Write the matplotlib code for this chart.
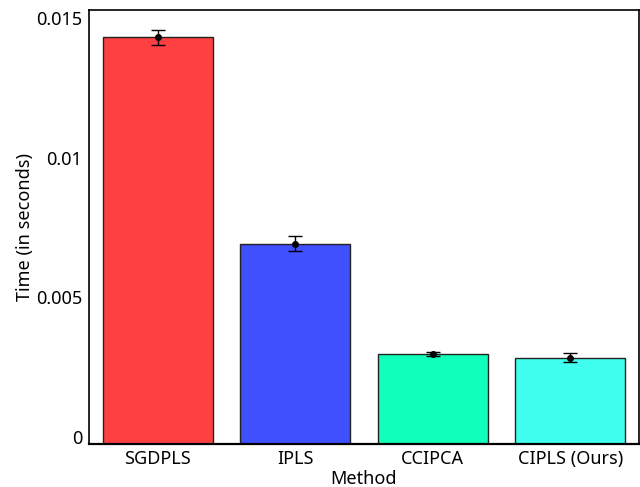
import matplotlib
matplotlib.use("Agg")
import matplotlib.pyplot as plt
import numpy as np

methods = ["SGDPLS", "IPLS", "CCIPCA", "CIPLS (Ours)"]
times = [0.01432, 0.00692, 0.00297, 0.00284]
errors = [0.00027, 0.00027, 0.00008, 0.00017]
colors = ["#FF4043", "#4050FF", "#10FFBA", "#40FFEE"]
yticks = [0, 0.005, 0.01, 0.015]
yticklabels = ["0", "0.005", "0.01", "0.015"]

plt.rcParams['font.family'] = ['Noto Sans', 'DejaVu Sans']

fig = plt.figure(figsize=(6.4, 4.87), dpi=100)
ax = fig.add_axes([89/640, 1 - 444/487, 550/640, 434/487])

ybottom = -0.00025
x = np.arange(1, len(methods) + 1)
heights = [t - ybottom for t in times]
ax.bar(x, heights, bottom=ybottom, width=0.8, color=colors,
       edgecolor="#222222", linewidth=1.0, zorder=2)
ax.errorbar(x, times, yerr=errors, fmt='o', color='black', ms=4,
            capsize=5, elinewidth=1.0, capthick=1.0, zorder=3)

ax.set_xlim(0.5, 4.5)
ax.set_ylim(ybottom, 0.01529)
ax.set_xticks(x)
ax.set_xticklabels(methods, fontsize=13)
ax.set_yticks(yticks)
ax.set_yticklabels(yticklabels, fontsize=13)
ax.tick_params(axis='both', length=0, pad=5)
ax.tick_params(axis='x', pad=4)
for s in ax.spines.values():
    s.set_color('black')
    s.set_linewidth(1.2)
ax.spines['bottom'].set_linewidth(1.6)

ax.set_xlabel("Method", fontsize=13, labelpad=1.5)
ax.set_ylabel("Time (in seconds)", fontsize=13, labelpad=1)

fig.savefig("out.png", dpi=100)
